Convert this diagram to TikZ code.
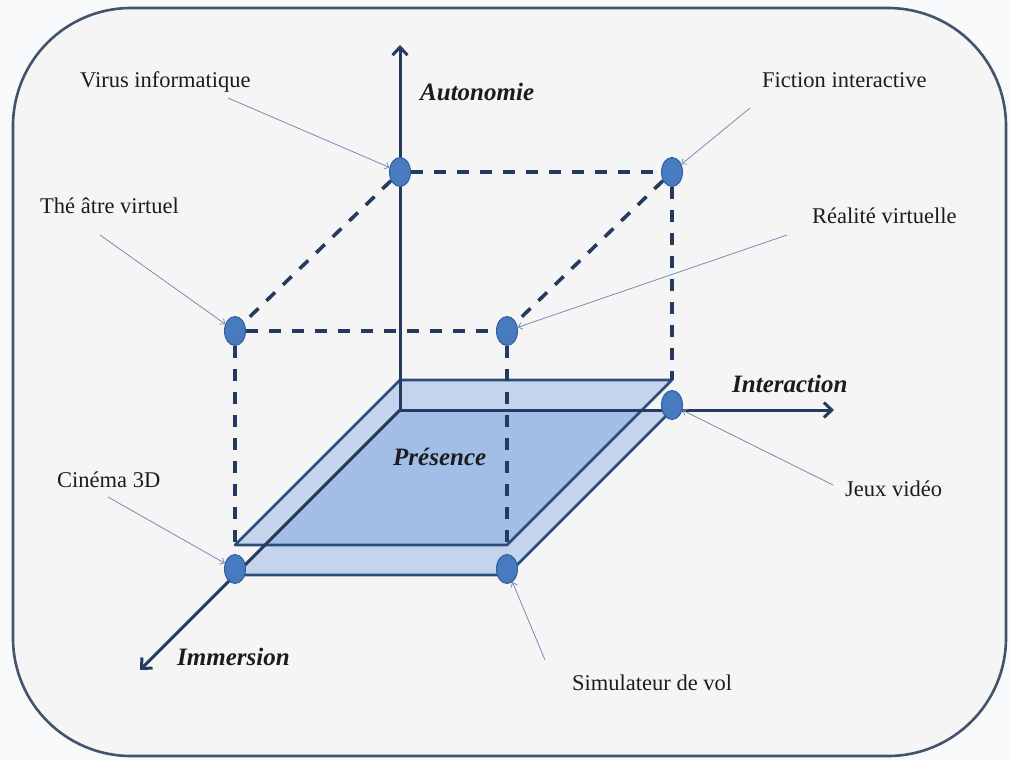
\documentclass[tikz,border=0pt]{standalone}
\usepackage{fontspec}
\setmainfont{Liberation Serif}
\usetikzlibrary{arrows.meta,shapes.geometric}
\definecolor{navy}{RGB}{36,58,94}
\definecolor{plateedge}{RGB}{44,76,124}
\definecolor{framec}{RGB}{66,84,108}
\definecolor{dotfill}{RGB}{72,122,192}
\definecolor{dotedge}{RGB}{48,94,158}
\definecolor{plight}{RGB}{196,212,236}
\definecolor{pdark}{RGB}{162,189,230}
\definecolor{annc}{RGB}{118,142,178}
\definecolor{bgin}{RGB}{245,245,246}
\definecolor{bgout}{RGB}{248,249,250}
\definecolor{txt}{RGB}{28,28,30}
\pgfdeclarelayer{back}
\pgfsetlayers{back,main}
\begin{document}
\begin{tikzpicture}[x=1pt,y=-1pt,
  axisline/.style={navy, line width=3pt, -{Straight Barb[length=8pt,width=15pt]}},
  plateline/.style={plateedge, line width=2.6pt, line join=round},
  dashline/.style={navy, line width=3.6pt, dash pattern=on 12pt off 11pt},
  ptdot/.style={ellipse, draw=dotedge, line width=1pt, fill=dotfill, minimum width=21pt, minimum height=29pt, inner sep=0pt},
  annline/.style={annc, line width=0.8pt, -{Straight Barb[length=4pt,width=7pt]}},
  lbl/.style={anchor=base west, inner sep=0pt, text=txt, font=\fontsize{22.5}{27}\selectfont},
  axlbl/.style={anchor=base west, inner sep=0pt, text=txt, font=\fontsize{25}{30}\selectfont\bfseries\itshape}
]
\useasboundingbox (0,0) rectangle (1010,760);
% dots
\node[ptdot] (virus) at (400,172) {};
\node[ptdot] (fiction) at (672,172) {};
\node[ptdot] (theatre) at (235,331) {};
\node[ptdot] (realite) at (507,331) {};
\node[ptdot] (jeux) at (672,405) {};
\node[ptdot] (cinema) at (235,569) {};
\node[ptdot] (simul) at (507,569) {};
% plate corners and axes
\coordinate (T1) at (400,380); \coordinate (T2) at (672,380);
\coordinate (T3) at (507,545); \coordinate (T4) at (235,545);
\coordinate (O)  at (400,410); \coordinate (B2) at (672,410);
\coordinate (B3) at (507,575); \coordinate (B4) at (235,575);
\coordinate (I1) at (642,410); \coordinate (I2) at (265,545);
\coordinate (autTip) at (400,45);
\coordinate (intTip) at (834,410);
\coordinate (immTip) at (140,670);
\begin{pgfonlayer}{back}
\fill[bgout] (0,0) rectangle (1010,760);
\draw[framec, line width=2.6pt, fill=bgin, rounded corners=118pt] (13,8) rectangle (1006,756);
\fill[plight] (T1)--(T2)--(T3)--(T4)--cycle;
\fill[plight] (O)--(B2)--(B3)--(B4)--cycle;
\fill[pdark] (O)--(I1)--(T3)--(I2)--cycle;
\draw[plateline] (T1)--(T2)--(T3)--(T4)--cycle;
\draw[plateline] (B2)--(B3)--(B4);
\draw[axisline] (O) -- (autTip);
\draw[axisline] (O) -- (intTip);
\draw[axisline] (O) -- (immTip);
\draw[dashline] (virus) -- (fiction);
\draw[dashline] (virus) -- (theatre);
\draw[dashline] (fiction) -- (realite);
\draw[dashline] (theatre) -- (realite);
\draw[dashline] (fiction) -- (T2);
\draw[dashline] (realite) -- (T3);
\draw[dashline] (theatre) -- (T4);
\end{pgfonlayer}
% labels
\node[lbl] (lvirus) at (80,88) {Virus informatique};
\node[lbl] (lfiction) at (762,88) {Fiction interactive};
\node[lbl] (ltheatre) at (40,213) {Thé âtre virtuel};
\node[lbl] (lrealite) at (812,223) {Réalité virtuelle};
\node[lbl] (ljeux) at (845,496) {Jeux vidéo};
\node[lbl] (lcinema) at (57,487) {Cinéma 3D};
\node[lbl] (lsimul) at (572,690) {Simulateur de vol};
\node[axlbl] (laut) at (420,100) {Autonomie};
\node[axlbl] (lint) at (732,392) {Interaction};
\node[axlbl] (limm) at (177,665) {Immersion};
\node[axlbl] (lpres) at (393,465) {Présence};
% annotation arrows
\coordinate (avirus) at (228,98);
\coordinate (afiction) at (750,108);
\coordinate (atheatre) at (100,235);
\coordinate (arealite) at (787,235);
\coordinate (ajeux) at (833,485);
\coordinate (acinema) at (108,497);
\coordinate (asimul) at (545,660);
\draw[annline] (avirus) -- (virus);
\draw[annline] (afiction) -- (fiction);
\draw[annline] (atheatre) -- (theatre);
\draw[annline] (arealite) -- (realite);
\draw[annline] (ajeux) -- (jeux);
\draw[annline] (acinema) -- (cinema);
\draw[annline] (asimul) -- (simul);
\end{tikzpicture}
\end{document}
